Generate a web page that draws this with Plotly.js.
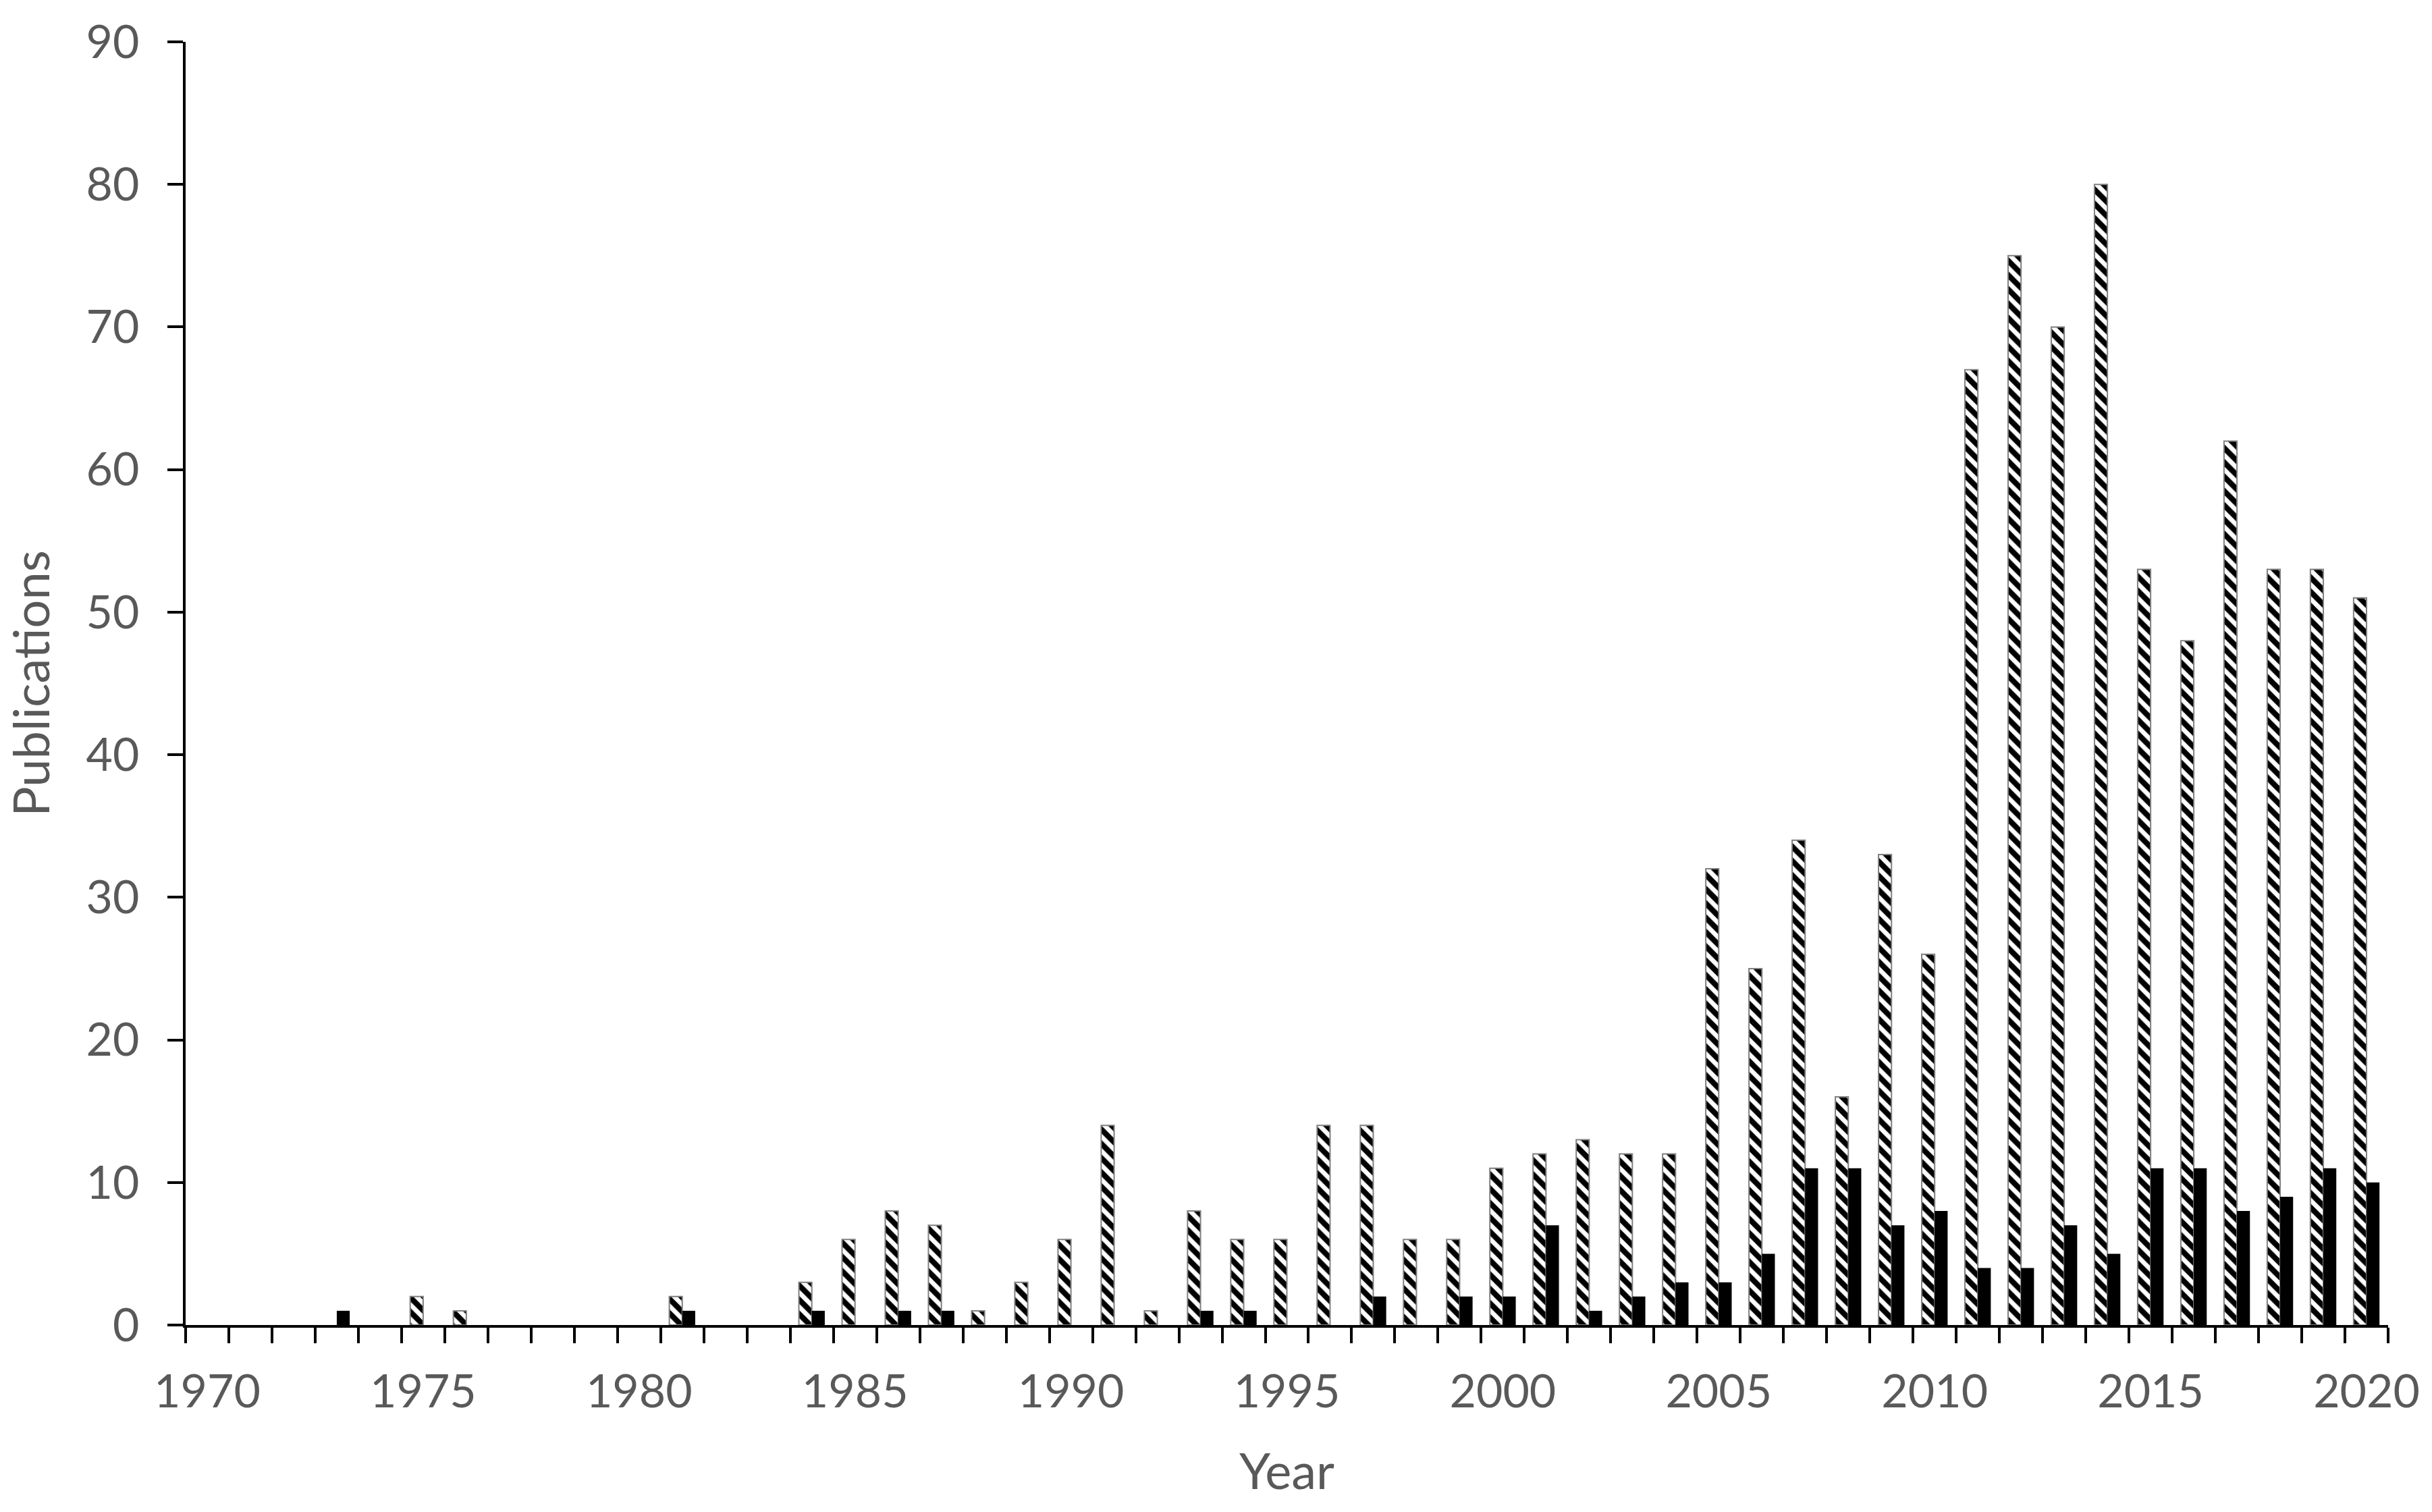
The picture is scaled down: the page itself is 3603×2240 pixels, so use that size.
<!DOCTYPE html>
<html>
<head>
<meta charset="utf-8">
<script src="https://cdn.plot.ly/plotly-3.0.1.min.js"></script>
<style>
html,body{margin:0;padding:0;background:#fff;}
#chart{width:3603px;height:2240px;}
</style>
</head>
<body>
<div id="chart"></div>
<script>
const years = [1970,1971,1972,1973,1974,1975,1976,1977,1978,1979,
  1980,1981,1982,1983,1984,1985,1986,1987,1988,1989,
  1990,1991,1992,1993,1994,1995,1996,1997,1998,1999,
  2000,2001,2002,2003,2004,2005,2006,2007,2008,2009,
  2010,2011,2012,2013,2014,2015,2016,2017,2018,2019,2020];

const hatchedSeries = [0,0,0,0,0,2,1,0,0,0,
  0,2,0,0,3,6,8,7,1,3,
  6,14,1,8,6,6,14,14,6,6,
  11,12,13,12,12,32,25,34,16,33,
  26,67,75,70,80,53,48,62,53,53,51];

const solidSeries = [0,0,0,1,0,0,0,0,0,0,
  0,1,0,0,1,0,1,1,0,0,
  0,0,0,1,1,0,0,2,0,2,
  2,7,1,2,3,3,5,11,11,7,
  8,4,4,7,5,11,11,8,9,11,10];

const xTitle = "Year";
const yTitle = "Publications";

const cats = years.map(String);
const tickText = years.map(y => (y % 5 === 0 ? String(y) : ""));

const labelColor = "#595959";
const fontFam = "Lato, 'Open Sans', sans-serif";

const traces = [
  {
    type: "bar",
    x: cats,
    y: hatchedSeries,
    marker: {
      color: "#ffffff",
      line: {color: "#808080", width: hatchedSeries.map(v => (v > 0 ? 2 : 0))},
      pattern: {shape: "\\", fgcolor: "#000000", bgcolor: "#ffffff", size: 15, solidity: 0.55}
    },
    hoverinfo: "x+y",
    showlegend: false
  },
  {
    type: "bar",
    x: cats,
    y: solidSeries,
    marker: {color: "#000000", line: {width: 0}},
    hoverinfo: "x+y",
    showlegend: false
  }
];

const layout = {
  width: 3603,
  height: 2240,
  paper_bgcolor: "#ffffff",
  plot_bgcolor: "#ffffff",
  margin: {l: 275, r: 65, t: 62, b: 277, pad: 0},
  barmode: "group",
  bargap: 0.4,
  bargroupgap: 0,
  font: {family: fontFam, color: labelColor, size: 67},
  xaxis: {
    type: "category",
    categoryorder: "array",
    categoryarray: cats,
    tickmode: "array",
    tickvals: cats,
    ticktext: tickText,
    tickson: "boundaries",
    ticks: "outside",
    ticklen: 23,
    tickwidth: 4,
    tickcolor: "#000000",
    showline: true,
    linecolor: "#000000",
    linewidth: 4,
    showgrid: false,
    zeroline: false,
    tickangle: 0,
    ticklabelstandoff: 36,
    tickfont: {family: fontFam, size: 68, color: labelColor},
    title: {text: xTitle, font: {family: fontFam, size: 74, color: labelColor}, standoff: 58}
  },
  yaxis: {
    range: [0, 90],
    tickmode: "linear",
    tick0: 0,
    dtick: 10,
    ticks: "outside",
    ticklen: 23,
    tickwidth: 4,
    tickcolor: "#000000",
    showline: true,
    linecolor: "#000000",
    linewidth: 4,
    showgrid: false,
    zeroline: false,
    ticklabelstandoff: 28,
    tickfont: {family: fontFam, size: 68, color: labelColor},
    title: {text: yTitle, font: {family: fontFam, size: 74, color: labelColor}, standoff: 40}
  }
};

Plotly.newPlot("chart", traces, layout, {staticPlot: true, displayModeBar: false});
</script>
</body>
</html>
